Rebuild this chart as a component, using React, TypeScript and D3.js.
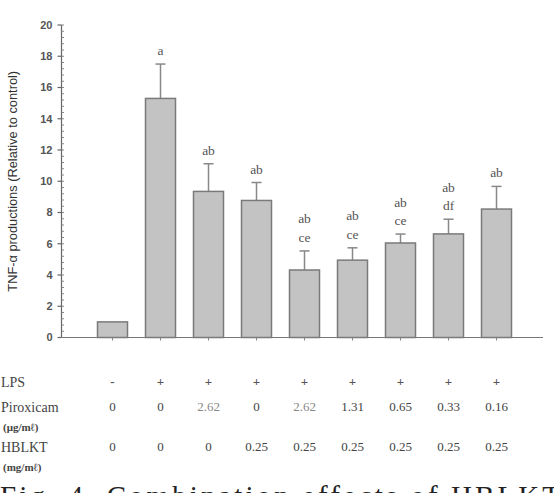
import React from "react";
import * as d3 from "d3";

// Treatment groups (one bar each)
const groups = ["g1", "g2", "g3", "g4", "g5", "g6", "g7", "g8", "g9"];
// TNF-α production relative to control (mean) and upper error (SD)
const means = [1.0, 15.3, 9.35, 8.77, 4.32, 4.95, 6.05, 6.63, 8.22];
const errors = [0, 2.2, 1.77, 1.15, 1.22, 0.79, 0.57, 0.94, 1.45];
// Significance letters, one line per entry
const letters = [[], ["a"], ["ab"], ["ab"], ["ab", "ce"], ["ab", "ce"], ["ab", "ce"], ["ab", "df"], ["ab"]];
// Treatment table rows
const lpsRow = ["-", "+", "+", "+", "+", "+", "+", "+", "+"];
const piroxicamRow = ["0", "0", "2.62", "0", "2.62", "1.31", "0.65", "0.33", "0.16"];
const hblktRow = ["0", "0", "0", "0.25", "0.25", "0.25", "0.25", "0.25", "0.25"];
const yTicks = [0, 2, 4, 6, 8, 10, 12, 14, 16, 18, 20];

const W = 554;
const H = 493;

export default function App() {
  const y = d3.scaleLinear().domain([0, 20]).range([337.5, 25]);
  const x = d3.scaleBand().domain(groups).range([88.5, 520.5]).paddingInner(0.375).paddingOuter(0.1875);
  const axisX = 61.5;
  const minor = d3.range(0, 20.001, 0.4);
  const cx = (g: string) => (x(g) as number) + x.bandwidth() / 2;
  const serif = "'Liberation Serif', 'DejaVu Serif', serif";
  const sans = "'Liberation Sans', Arial, sans-serif";

  return (
    <svg width={W} height={H} style={{ position: "absolute", left: 0, top: 0, background: "#fff" }}>
      {/* y axis */}
      <line x1={axisX} x2={axisX} y1={y(20)} y2={y(0)} stroke="#666" strokeWidth={1.2} />
      {minor.map((v, i) => (
        <line key={"m" + i} x1={axisX} x2={axisX + 2.5} y1={y(v)} y2={y(v)} stroke="#888" strokeWidth={1} />
      ))}
      {yTicks.map((t) => (
        <g key={t}>
          <line x1={axisX - 4} x2={axisX} y1={y(t)} y2={y(t)} stroke="#666" strokeWidth={1.2} />
          <text x={axisX - 9} y={y(t)} dy="0.35em" textAnchor="end" fontFamily={sans} fontWeight="bold" fontSize={11} fill="#555">
            {t}
          </text>
        </g>
      ))}
      <text
        transform={`translate(17,${(y(0) + y(20)) / 2}) rotate(-90)`}
        textAnchor="middle"
        fontFamily={sans}
        fontSize={12.8}
        fill="#333"
      >
        TNF-α productions (Relative to control)
      </text>

      {/* x axis */}
      <line x1={axisX} x2={543} y1={y(0)} y2={y(0)} stroke="#777" strokeWidth={1.2} />
      {groups.map((g) => (
        <line key={"t" + g} x1={cx(g)} x2={cx(g)} y1={y(0)} y2={y(0) + 3} stroke="#888" strokeWidth={1} />
      ))}

      {/* bars, error bars and letters */}
      {groups.map((g, i) => {
        const top = y(means[i] + errors[i]);
        return (
          <g key={g}>
            {errors[i] > 0 && (
              <g stroke="#888" strokeWidth={1.5}>
                <line x1={cx(g)} x2={cx(g)} y1={y(means[i])} y2={top} />
                <line x1={cx(g) - 5} x2={cx(g) + 5} y1={top} y2={top} />
              </g>
            )}
            <rect
              x={x(g)}
              y={y(means[i])}
              width={x.bandwidth()}
              height={y(0) - y(means[i])}
              fill="#c3c3c3"
              stroke="#7a7a7a"
              strokeWidth={1.5}
            />
            {letters[i].map((l, j) => (
              <text
                key={j}
                x={cx(g)}
                y={top - 9 - (letters[i].length - 1 - j) * 18.5}
                textAnchor="middle"
                fontFamily={serif}
                fontSize={13.5}
                fill="#555"
              >
                {l}
              </text>
            ))}
          </g>
        );
      })}

      {/* treatment table */}
      <g fontFamily={serif} fill="#444">
        <text x={1} y={387} fontSize={14}>LPS</text>
        <text x={1} y={412} fontSize={14}>Piroxicam</text>
        <text x={3} y={431} fontSize={11} fontWeight="bold">(μg/mℓ)</text>
        <text x={1} y={452} fontSize={14}>HBLKT</text>
        <text x={3} y={471} fontSize={11} fontWeight="bold">(mg/mℓ)</text>
        {groups.map((g, i) => (
          <g key={"r" + g} textAnchor="middle" fontSize={13}>
            <text x={cx(g)} y={386} fontWeight="bold" fill="#555">{lpsRow[i]}</text>
            <text x={cx(g)} y={411} fill={piroxicamRow[i] === "2.62" ? "#888" : "#444"}>{piroxicamRow[i]}</text>
            <text x={cx(g)} y={451}>{hblktRow[i]}</text>
          </g>
        ))}
      </g>

      {/* figure caption */}
      <text x={0} y={506} fontFamily={serif} fontSize={29} fill="#222" textLength={560} lengthAdjust="spacing">
        Fig. 4. Combination effects of HBLKT
      </text>
    </svg>
  );
}
